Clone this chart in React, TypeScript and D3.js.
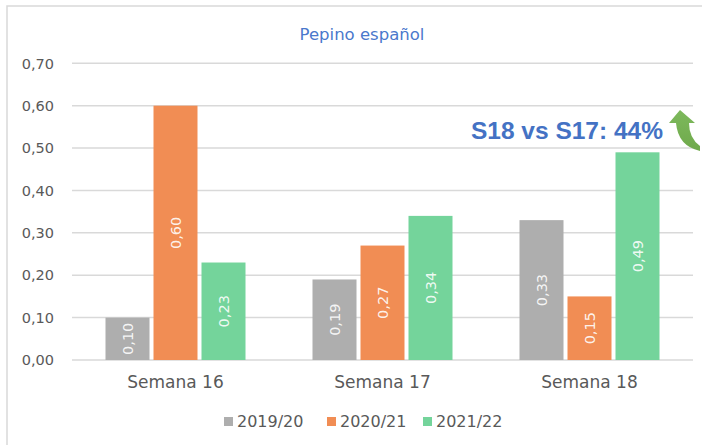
import React from "react";
import * as d3 from "d3";

const title = "Pepino español";
const categories = ["Semana 16", "Semana 17", "Semana 18"];
const seriesNames = ["2019/20", "2020/21", "2021/22"];
const values2019 = [0.1, 0.19, 0.33];
const values2020 = [0.6, 0.27, 0.15];
const values2021 = [0.23, 0.34, 0.49];
const yTicks = [0, 0.1, 0.2, 0.3, 0.4, 0.5, 0.6, 0.7];
const colors = ["#AEAEAE", "#F18D54", "#74D49B"];
const annotation = "S18 vs S17: 44%";

const W = 702;
const H = 445;
const font = "'DejaVu Sans', sans-serif";

export default function App() {
  const series = [values2019, values2020, values2021];
  const x = d3.scaleBand<string>().domain(categories).range([72, 693]).padding(0);
  const inner = d3
    .scaleBand<string>()
    .domain(seriesNames)
    .range([(x.bandwidth() - 140) / 2, (x.bandwidth() + 140) / 2])
    .paddingInner(4 / 48)
    .paddingOuter(0);
  const y = d3.scaleLinear().domain([0, 0.7]).range([360, 63.3]);
  const fmt = (v: number) => d3.format(".2f")(v).replace(".", ",");

  const legendX = [224, 327, 423];

  return (
    <svg
      width={W}
      height={H}
      style={{ position: "absolute", left: 0, top: 0, background: "#fff" }}
    >
      <rect x={0} y={0} width={W} height={H} fill="#fff" />
      <rect x={7} y={6} width={720} height={460} fill="none" stroke="#D9D9D9" strokeWidth={1.5} />
      <text
        x={362}
        y={40}
        textAnchor="middle"
        fontFamily={font}
        fontSize={16.5}
        fill="#4A78CC"
      >
        {title}
      </text>
      {yTicks.map((t) => (
        <g key={t}>
          <line x1={72} x2={693} y1={y(t)} y2={y(t)} stroke="#D9D9D9" strokeWidth={1.5} />
          <text
            x={54}
            y={y(t)}
            dy="0.36em"
            textAnchor="end"
            fontFamily={font}
            fontSize={14.5}
            fill="#595959"
          >
            {fmt(t)}
          </text>
        </g>
      ))}
      {categories.map((c, ci) => (
        <g key={c} transform={`translate(${x(c)},0)`}>
          {seriesNames.map((s, si) => {
            const v = series[si][ci];
            const bx = inner(s) as number;
            const bw = inner.bandwidth();
            const top = y(v);
            const cy = (top + y(0)) / 2;
            return (
              <g key={s}>
                <rect x={bx} y={top} width={bw} height={y(0) - top} fill={colors[si]} />
                <text
                  transform={`translate(${bx + bw / 2},${cy}) rotate(-90)`}
                  dy="0.36em"
                  textAnchor="middle"
                  fontFamily={font}
                  fontSize={14.5}
                  fill="#FFFFFF"
                  fillOpacity={0.9}
                >
                  {fmt(v)}
                </text>
              </g>
            );
          })}
          <text
            x={x.bandwidth() / 2}
            y={388}
            textAnchor="middle"
            fontFamily={font}
            fontSize={17}
            fill="#595959"
          >
            {c}
          </text>
        </g>
      ))}
      {seriesNames.map((s, i) => (
        <g key={s}>
          <rect x={legendX[i]} y={417} width={9} height={9} fill={colors[i]} />
          <text x={legendX[i] + 13} y={427} fontFamily={font} fontSize={16} fill="#595959">
            {s}
          </text>
        </g>
      ))}
      <text
        x={663}
        y={139}
        textAnchor="end"
        fontFamily="'Liberation Sans', Arial, sans-serif"
        fontWeight="bold"
        fontSize={24.5}
        fill="#4472C4"
      >
        {annotation}
      </text>
      <defs>
        <linearGradient id="arrowGrad" x1="0" y1="0" x2="0" y2="1">
          <stop offset="0" stopColor="#7DB95C" />
          <stop offset="1" stopColor="#6FA94B" />
        </linearGradient>
      </defs>
      <path
        d="M680,110 L695,123 L689,123 Q689,138 700,146 L700,151 Q678,146 676,123 L669,123 Z"
        fill="url(#arrowGrad)"
      />
    </svg>
  );
}
